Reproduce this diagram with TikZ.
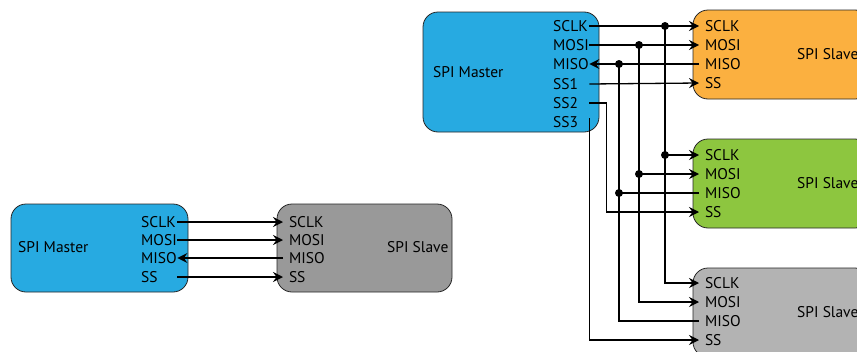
\documentclass[tikz,border=0pt]{standalone}
\usepackage{fontspec}
\setmainfont{PT Sans}
\usetikzlibrary{arrows.meta,calc}
\definecolor{mstblue}{HTML}{27AAE1}
\definecolor{slvorange}{HTML}{FBB040}
\definecolor{slvgreen}{HTML}{8DC63F}
\definecolor{slvgray}{HTML}{999999}
\definecolor{slvlight}{HTML}{B3B3B3}
\tikzset{
  unit/.style={draw=black!85, line width=0.8pt, rounded corners=15pt, inner sep=0pt},
  pinm/.style={anchor=west, inner sep=0pt, text width=36pt, align=left, font=\fontsize{15.5}{17}\selectfont},
  pins/.style={anchor=west, inner sep=0pt, outer xsep=6pt, font=\fontsize{15.5}{17}\selectfont},
  ttl/.style={anchor=west, inner sep=0pt, font=\fontsize{15.5}{17}\selectfont},
  sig/.style={-{Stealth[length=10pt,width=10pt,inset=3.5pt]}, line width=1.3pt},
  wire/.style={line width=1.3pt},
  jn/.style={circle, fill, inner sep=0pt, minimum size=8pt},
}
\begin{document}
\begin{tikzpicture}[x=1pt,y=-1pt]
  \useasboundingbox (0,0) rectangle (857,351);
  \clip (0,0) rectangle (857,351);
  % single slave
  \node[unit, fill=mstblue, minimum width=177pt, minimum height=88pt] (m0) at (99.5,248) {};
  \node[unit, fill=slvgray, minimum width=175pt, minimum height=88pt] (s0) at (364.5,248) {};
  \node[ttl] (m0t) at (18,247) {SPI Master};
  \node[ttl] (s0t) at (387,247) {SPI Slave};
  \foreach \n/\y in {SCLK/222,MOSI/240,MISO/258,SS/277}{
    \node[pinm] (m0\n) at (141,\y) {\n};
    \node[pins] (s0\n) at (283,\y) {\n};
  }
  \foreach \n in {SCLK,MOSI,SS}
    \draw[sig] (m0\n.east) -- (s0\n.west);
  \draw[sig] (s0MISO.west) -- (m0MISO.east);

  % one master, three slaves
  \node[unit, fill=mstblue, minimum width=176pt, minimum height=120pt] (m) at (511,72) {};
  \node[unit, fill=slvorange, minimum width=177pt, minimum height=89pt] (sA) at (781.5,54.5) {};
  \node[unit, fill=slvgreen, minimum width=177pt, minimum height=89pt] (sB) at (781.5,183.5) {};
  \node[unit, fill=slvlight, minimum width=177pt, minimum height=89pt] (sC) at (781.5,312.5) {};
  \node[ttl] (mt) at (433,72) {SPI Master};
  \foreach \s/\y in {A/54,B/183,C/312}
    \node[ttl] (s\s t) at (797,\y) {SPI Slave};
  \foreach \n/\y in {SCLK/26,MOSI/45,MISO/64,SS1/84,SS2/103,SS3/122}
    \node[pinm] (m\n) at (553,\y) {\n};
  \foreach \s/\y in {A/26,B/155,C/283}{
    \node[pins] (s\s SCLK) at (699,\y) {SCLK};
    \node[pins] (s\s MOSI) at (699,\y+19) {MOSI};
    \node[pins] (s\s MISO) at (699,\y+38) {MISO};
    \node[pins] (s\s SS) at (699,\y+57) {SS};
  }
  % shared lines, tapped at the dots
  \coordinate (tSCLK) at (665,0);
  \coordinate (tMOSI) at (639,0);
  \coordinate (tMISO) at (619,0);
  \foreach \n in {SCLK,MOSI}{
    \draw[sig] (m\n.east) -- (sA\n.west);
    \draw[sig] (t\n |- sA\n.west) |- (sC\n.west);
    \draw[sig] (t\n |- sB\n.west) -- (sB\n.west);
    \node[jn] (j\n A) at (t\n |- sA\n.west) {};
    \node[jn] (j\n B) at (t\n |- sB\n.west) {};
  }
  \draw[sig] (sAMISO.west) -- (mMISO.east);
  \draw[wire] (sCMISO.west) -| (tMISO |- mMISO.east);
  \draw[wire] (sBMISO.west) -- (tMISO |- sBMISO.west);
  \node[jn] (jMISOA) at (tMISO |- mMISO.east) {};
  \node[jn] (jMISOB) at (tMISO |- sBMISO.west) {};
  % chip selects
  \draw[sig] (mSS1.east) -- (sASS.west);
  \draw[sig] (mSS2.east) -- ++(17,0) |- (sBSS.west);
  \draw[sig] ([yshift=4pt]mSS3.east) |- (sCSS.west);
\end{tikzpicture}
\end{document}
